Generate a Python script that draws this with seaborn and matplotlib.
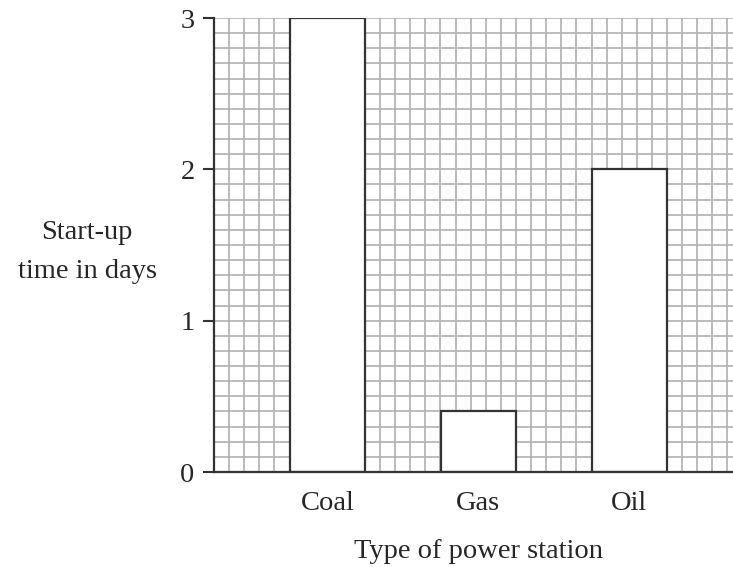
import numpy as np
import matplotlib
matplotlib.use('Agg')
import matplotlib.pyplot as plt
import seaborn as sns
from matplotlib.ticker import FixedLocator

# Data
stations = ['Coal', 'Gas', 'Oil']
startup_days = [3.0, 0.4, 2.0]
y_ticks = [0, 1, 2, 3]

sns.set_style('white')
plt.rcParams['font.family'] = ['Liberation Serif', 'DejaVu Serif']
plt.rcParams['font.size'] = 20.5

fig = plt.figure(figsize=(7.33, 5.67), dpi=100)
ax = fig.add_axes([214 / 733, 95 / 567, 519 / 733, 454 / 567])

ax.set_axisbelow(True)
sns.barplot(x=stations, y=startup_days, color='white', edgecolor='#333333',
            linewidth=1.6, width=0.5, saturation=1, ax=ax)

# graph-paper grid, every 0.1 units
x_left = -0.75
x_right = x_left + 519 / 151
ax.set_xlim(x_left, x_right)
ax.set_ylim(0, 3)
ax.xaxis.set_minor_locator(FixedLocator(np.arange(x_left, x_right + 0.01, 0.1)))
ax.yaxis.set_minor_locator(FixedLocator(np.arange(0, 3.01, 0.1)))
ax.set_yticks(y_ticks)
ax.grid(which='minor', color='#b0b0b0', linewidth=1.2)
ax.grid(which='major', axis='y', color='#b0b0b0', linewidth=1.2)
ax.grid(which='major', axis='x', visible=False)

ax.tick_params(which='minor', length=0)
ax.tick_params(axis='x', which='major', length=0, pad=14)
ax.tick_params(axis='y', which='major', length=8, width=1.5, color='#333333',
               pad=6, left=True)

for side in ['top', 'right']:
    ax.spines[side].set_visible(False)
for side in ['left', 'bottom']:
    ax.spines[side].set_color('#333333')
    ax.spines[side].set_linewidth(1.6)

ax.set_xlabel('Type of power station')
ax.xaxis.set_label_coords(264 / 519, -0.148)
ax.xaxis.label.set_va('top')
ax.set_ylabel('Start-up\ntime in days', rotation=0, ha='center', va='center',
              linespacing=1.7)
ax.yaxis.set_label_coords(-127 / 519, 220 / 454)

fig.savefig('out.png', dpi=100)
